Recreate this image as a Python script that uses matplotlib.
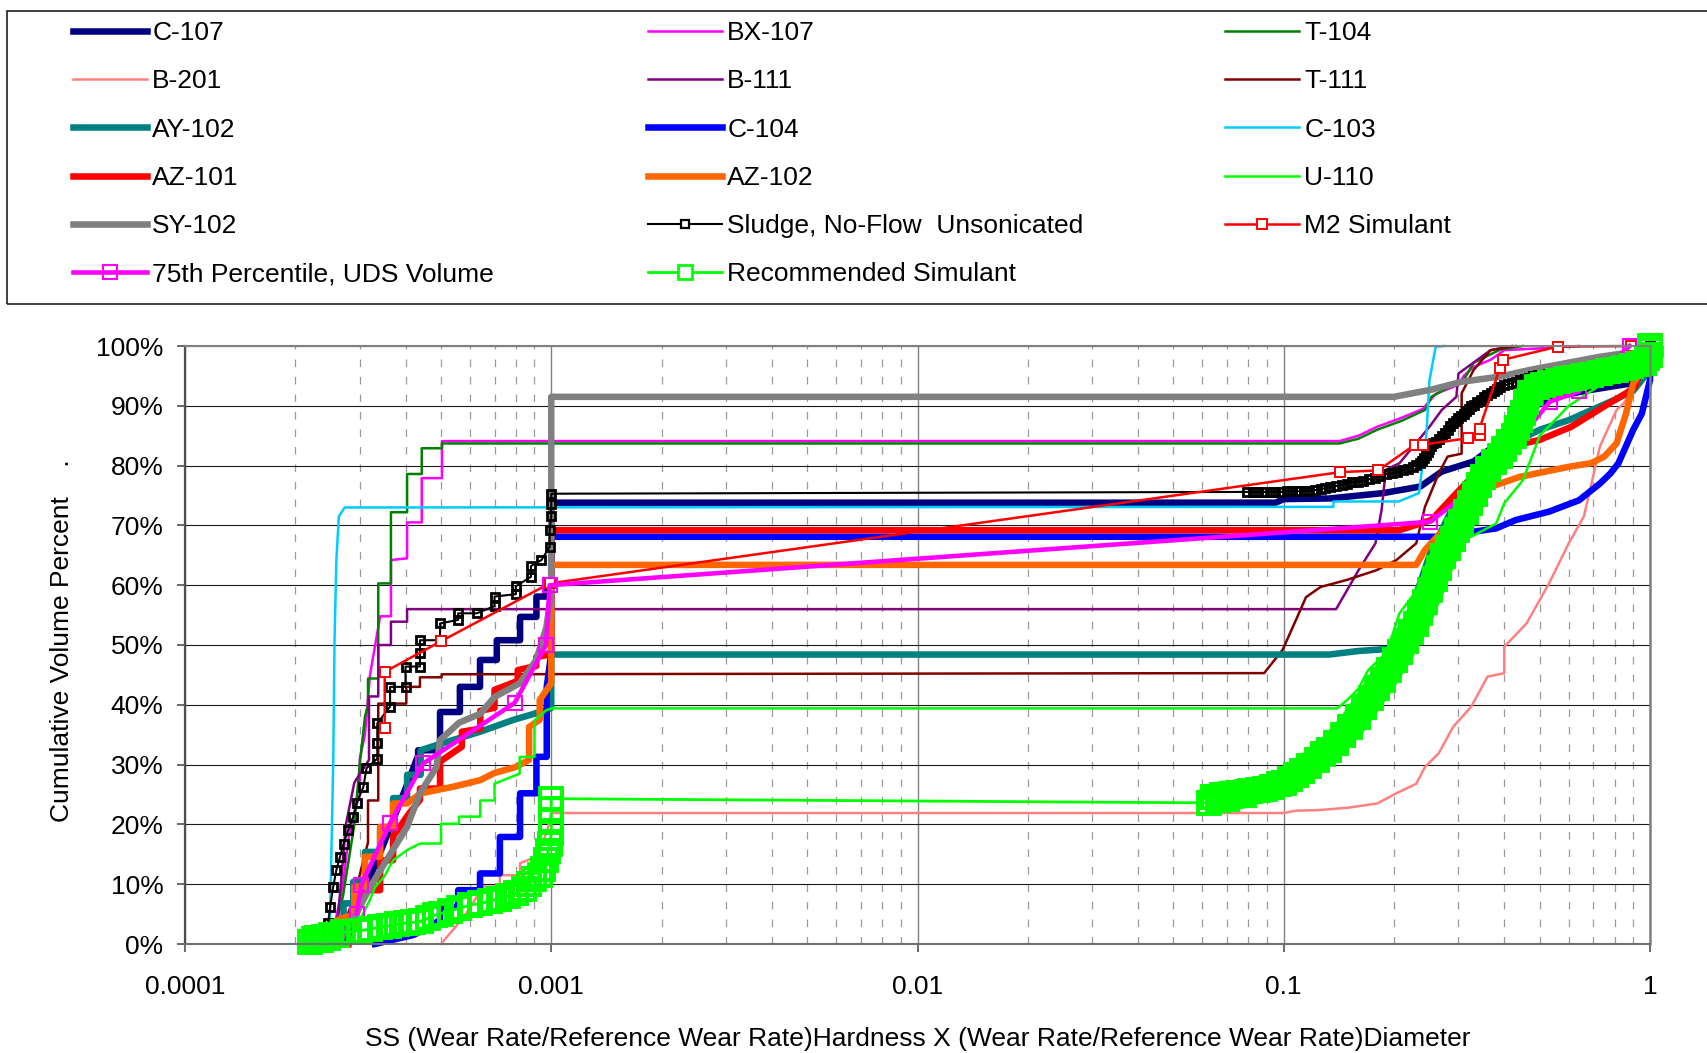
import matplotlib
matplotlib.use("Agg")
import matplotlib.pyplot as plt
from matplotlib.lines import Line2D
from matplotlib.patches import Rectangle
from matplotlib.ticker import FixedLocator, FixedFormatter, LogLocator, NullFormatter

plt.rcParams['font.family'] = ['Liberation Sans', 'DejaVu Sans']

# ---------------------------------------------------------------------------
# Cumulative volume percent vs. SS wear metric, (x, percent) per data set
# ---------------------------------------------------------------------------
C107 = [(0.00027, 0), (0.0003, 7), (0.00035, 17), (0.0004, 26), (0.000433, 31.5),
        (0.000433, 32.4), (0.000497, 32.4), (0.000497, 38.8), (0.000563, 38.8),
        (0.000563, 43.0), (0.000639, 43.0), (0.000639, 47.5), (0.00071, 47.5), (0.00071, 50.8),
        (0.000822, 50.8), (0.000822, 54.7), (0.000911, 54.7), (0.000911, 58.1), (0.00097, 58.1),
        (0.00097, 59.5), (0.001, 59.5), (0.001, 73.8), (0.095, 73.8), (0.1, 74.4), (0.133, 74.5),
        (0.187, 75.4), (0.236, 76.5), (0.27, 79.0), (0.33, 80.7), (0.37, 83.0), (0.4, 85.4),
        (0.45, 89.0), (0.55, 91.5), (0.68, 92.6), (0.9, 93.8), (0.97, 96.0), (1.0, 100)]

BX107 = [(0.00025, 0), (0.00027, 10), (0.00028, 18), (0.00029, 22), (0.0003, 25), (0.0003, 31),
         (0.00031, 35), (0.00032, 45), (0.000341, 54.8), (0.000365, 54.8), (0.000365, 64.2),
         (0.000404, 64.5), (0.000404, 70.5), (0.000443, 70.5), (0.000443, 77.9), (0.000503, 77.9),
         (0.000503, 84.1), (0.142, 84.1), (0.16, 85.0), (0.18, 86.5), (0.21, 88.0), (0.24, 89.5),
         (0.26, 92.0), (0.3, 93.5), (0.31, 95.0), (0.33, 96.5), (0.367, 97.7), (0.4, 99.3),
         (0.5, 99.6), (0.64, 100)]

T104 = [(0.00025, 0), (0.00027, 8), (0.00029, 20), (0.0003, 30), (0.00031, 38), (0.000316, 40),
        (0.000316, 44.4), (0.000337, 44.4), (0.000337, 60.3), (0.000365, 60.3), (0.000365, 72.2),
        (0.000404, 72.2), (0.000404, 78.6), (0.000443, 78.6), (0.000443, 82.9), (0.000503, 82.9),
        (0.000503, 83.7), (0.142, 83.7), (0.16, 84.5), (0.18, 86.0), (0.21, 87.5), (0.243, 89.3),
        (0.253, 91.5), (0.28, 93.0), (0.31, 94.3), (0.33, 97.2), (0.39, 99.4), (0.45, 100)]

B201 = [(0.0005, 0), (0.00055, 3), (0.0006, 6), (0.00065, 9.6), (0.000724, 9.6), (0.000724, 11.5),
        (0.000822, 11.5), (0.000822, 13.5), (0.0009, 14.5), (0.00095, 17.0), (0.00098, 19.5),
        (0.001, 21.9), (0.1, 21.9), (0.108, 22.3), (0.125, 22.4), (0.15, 22.8), (0.18, 23.5),
        (0.203, 25.2), (0.23, 26.8), (0.243, 29.6), (0.265, 31.9), (0.29, 36.3), (0.325, 39.7),
        (0.36, 44.7), (0.4, 45.3), (0.4, 49.7), (0.46, 53.6), (0.53, 60.3), (0.6, 67.0),
        (0.66, 71.5), (0.73, 83.2), (0.81, 89.3), (0.85, 90.5), (0.9, 93.2), (0.95, 94.0), (1.0, 100)]

B111 = [(0.000255, 0), (0.000262, 5), (0.000268, 11.8), (0.000275, 20), (0.00029, 27),
        (0.000318, 30.8), (0.000318, 41.4), (0.000337, 41.4), (0.000337, 50.0), (0.000365, 50.0),
        (0.000365, 53.9), (0.000404, 53.9), (0.000404, 56.0), (0.139, 56.0), (0.149, 59.2),
        (0.16, 62.5), (0.178, 67.0), (0.185, 72.6), (0.19, 79.3), (0.207, 80.4), (0.25, 86.5),
        (0.27, 89.3), (0.296, 91.5), (0.3, 95.4), (0.367, 99.3), (0.42, 100)]

T111 = [(0.00026, 0), (0.00029, 8), (0.000316, 17), (0.000316, 24), (0.000337, 24),
        (0.000337, 40.2), (0.000402, 40.2), (0.000402, 43.0), (0.000438, 43.0), (0.000438, 44.6),
        (0.000502, 44.6), (0.000502, 45.1), (0.0884, 45.3), (0.0993, 49.2), (0.108, 54.2),
        (0.115, 58.0), (0.126, 59.7), (0.149, 60.9), (0.179, 62.5), (0.203, 64.2), (0.23, 67.0),
        (0.243, 73.1), (0.265, 78.7), (0.28, 81.5), (0.306, 82.0), (0.306, 92.1), (0.33, 96.0),
        (0.367, 99.3), (0.43, 100)]

AY102 = [(0.000262, 0), (0.000271, 0), (0.000271, 6.8), (0.000288, 6.8), (0.000288, 10.4),
         (0.00031, 10.4), (0.00031, 15.4), (0.000341, 15.4), (0.000341, 19.3), (0.00037, 19.3),
         (0.00037, 24.4), (0.000404, 24.4), (0.000404, 28.3), (0.00044, 28.3), (0.00044, 32.4),
         (0.0005, 33.5), (0.00064, 35.5), (0.00079, 37.5), (0.00091, 38.6), (0.00097, 39.1),
         (0.001, 39.5), (0.001, 48.4), (0.133, 48.4), (0.16, 49.0), (0.2, 49.4), (0.22, 55.0),
         (0.25, 65.0), (0.3, 75.0), (0.4, 83.0), (0.5, 86.0), (0.6, 87.6), (0.8, 91.0),
         (0.9, 92.5), (0.97, 95.0), (1.0, 100)]

C104 = [(0.00033, 0), (0.00042, 1.5), (0.000447, 2.3), (0.000497, 4.0), (0.000497, 6.2),
        (0.000557, 6.2), (0.000557, 9.0), (0.000639, 9.0), (0.000639, 11.8), (0.000724, 11.8),
        (0.000724, 17.9), (0.000822, 17.9), (0.000822, 25.2), (0.000911, 25.2), (0.000911, 31.3),
        (0.000972, 31.3), (0.000972, 43.0), (0.001, 48.6), (0.001, 68.1), (0.265, 68.1),
        (0.38, 69.5), (0.43, 70.9), (0.53, 72.3), (0.64, 74.2), (0.73, 77.0), (0.78, 78.7),
        (0.82, 80.4), (0.9, 86.0), (0.95, 88.7), (1.0, 94.3), (1.0, 100)]

C103 = [(0.000248, 0), (0.00025, 10), (0.000254, 30.8), (0.000256, 50.8), (0.000259, 64.2),
        (0.000263, 71.5), (0.000273, 73.0), (0.1366, 73.1), (0.1366, 74.0), (0.206, 74.0),
        (0.234, 75.4), (0.245, 85.0), (0.25, 94.3), (0.26, 99.9), (0.275, 100)]

AZ101 = [(0.00028, 0), (0.00029, 4), (0.00031, 9), (0.000341, 9), (0.000341, 14), (0.00037, 14),
         (0.00037, 18), (0.00041, 21.9), (0.000438, 24.1), (0.000438, 26), (0.000497, 26),
         (0.000497, 30.5), (0.00057, 33), (0.00057, 35.5), (0.00064, 36), (0.00064, 39),
         (0.0007, 39.5), (0.0007, 42.5), (0.00081, 44), (0.00081, 45.8), (0.00091, 46.5),
         (0.00091, 48), (0.00097, 48.3), (0.001, 49), (0.001, 69.2), (0.207, 69.2),
         (0.253, 70.9), (0.29, 74.8), (0.35, 80.0), (0.4, 83.0), (0.5, 84.3), (0.61, 86.5),
         (0.75, 89.9), (0.86, 92.1), (0.91, 93.2), (1.0, 100)]

AZ102 = [(0.00025, 0), (0.00026, 4), (0.00029, 5), (0.00029, 9.6), (0.00031, 9.6), (0.00031, 14.6),
         (0.000341, 14.6), (0.000341, 19.6), (0.00037, 19.6), (0.00037, 23.5), (0.000404, 23.5),
         (0.00044, 25.2), (0.00054, 26.3), (0.00064, 27.4), (0.0007, 28.6), (0.0008, 29.6),
         (0.00087, 30.8), (0.00087, 36.3), (0.00093, 37.5), (0.00093, 40.8), (0.001, 43.6),
         (0.001, 63.4), (0.23, 63.4), (0.243, 65.9), (0.3, 72.0), (0.35, 76.0), (0.44, 78.1),
         (0.6, 79.8), (0.69, 80.4), (0.75, 81.5), (0.81, 83.7), (0.86, 88.7), (0.9, 93.8),
         (0.93, 95.0), (1.0, 100)]

U110 = [(0.00028, 0), (0.0003, 4), (0.00032, 7.4), (0.00033, 9.5), (0.00035, 11.3), (0.00037, 14),
        (0.000404, 15.7), (0.000438, 16.8), (0.0005, 16.8), (0.0005, 20.1), (0.00056, 20.1),
        (0.00056, 21.3), (0.00064, 21.3), (0.00064, 24.0), (0.0007, 24.0), (0.0007, 26.8),
        (0.00082, 28.5), (0.00082, 31.3), (0.0009, 31.3), (0.0009, 37.4), (0.00097, 39.1),
        (0.001, 39.4), (0.14, 39.4), (0.149, 40.8), (0.16, 42.7), (0.17, 45.8), (0.19, 48.6),
        (0.2, 52.5), (0.207, 55.3), (0.25, 62.0), (0.3, 67.0), (0.38, 70.3), (0.4, 73.7),
        (0.45, 77.6), (0.5, 85.0), (0.6, 90.0), (0.8, 95.0), (1.0, 100)]

SY102 = [(0.00026, 0), (0.00028, 3), (0.0003, 6.2), (0.00032, 9.5), (0.000355, 14),
         (0.000404, 19.6), (0.000438, 25.2), (0.000486, 29.6), (0.000497, 34.1), (0.00056, 37.0),
         (0.00064, 38.5), (0.0007, 41.3), (0.00082, 43.6), (0.00091, 47.5), (0.00097, 53.0),
         (0.001, 58.6), (0.001, 91.5), (0.2, 91.5), (0.253, 92.7), (0.305, 94.0), (0.39, 94.9),
         (0.47, 96.0), (0.73, 98.2), (0.9, 99.0), (1.0, 100)]

SLUDGE = [(0.000246, 2.0), (0.000246, 3.5), (0.000249, 6.2), (0.000254, 9.6), (0.000259, 12.4),
          (0.000265, 14.6), (0.000271, 16.8), (0.000279, 19.1), (0.000288, 21.3), (0.000294, 23.5),
          (0.000307, 26.3), (0.000313, 29.4), (0.000335, 31.0), (0.000335, 33.6), (0.000335, 36.9),
          (0.000363, 39.7), (0.000363, 43.0), (0.0004, 43.0), (0.0004, 46.4), (0.000438, 46.4),
          (0.000438, 48.6), (0.000438, 50.8), (0.000497, 50.8), (0.000497, 53.6), (0.000557, 54.2),
          (0.000557, 55.3), (0.000626, 55.3), (0.0007, 56.5), (0.0007, 58.1), (0.0008, 58.5),
          (0.0008, 59.8), (0.00088, 61.4), (0.00088, 63.2), (0.00094, 64.2), (0.00099, 66.4),
          (0.00099, 69.2), (0.001, 71.5), (0.001, 73.5), (0.001, 75.3),
          (0.0793, 75.6), (0.0822, 75.6), (0.0852, 75.6), (0.0883, 75.6), (0.0915, 75.6),
          (0.0948, 75.6), (0.0982, 75.6), (0.1018, 75.7), (0.1055, 75.7), (0.1093, 75.7),
          (0.1133, 75.8), (0.1174, 75.8), (0.1216, 75.9), (0.126, 76.1), (0.13, 76.2),
          (0.134, 76.4), (0.139, 76.6), (0.144, 76.8), (0.149, 77.0), (0.154, 77.2),
          (0.159, 77.3), (0.165, 77.5), (0.171, 77.7), (0.177, 78.0), (0.183, 78.3),
          (0.19, 78.6), (0.197, 78.7), (0.204, 78.9), (0.211, 79.2), (0.218, 79.5),
          (0.225, 79.8), (0.23, 80.1), (0.235, 80.5), (0.239, 80.8), (0.242, 81.3),
          (0.245, 81.8), (0.248, 82.3), (0.25, 82.8), (0.253, 83.3), (0.256, 83.7),
          (0.26, 84.0), (0.265, 84.5), (0.27, 85.0), (0.275, 85.5), (0.28, 86.0),
          (0.285, 86.6), (0.29, 87.1), (0.295, 87.5), (0.3, 87.9), (0.305, 88.3),
          (0.31, 88.7), (0.315, 89.1), (0.32, 89.5), (0.325, 89.9), (0.33, 90.2),
          (0.337, 90.6), (0.345, 91.0), (0.352, 91.4), (0.36, 91.8), (0.367, 92.1),
          (0.375, 92.5), (0.382, 92.8), (0.39, 93.1), (0.4, 93.4), (0.41, 93.6),
          (0.42, 93.8), (0.43, 94.0), (0.442, 94.3), (0.455, 94.5), (0.467, 94.7),
          (0.48, 94.9), (0.495, 95.1), (0.51, 95.2), (0.525, 95.3), (0.54, 95.4),
          (0.57, 95.6), (0.6, 95.7), (0.63, 95.9), (0.66, 96.0), (0.7, 96.2), (0.75, 96.4),
          (0.8, 96.7), (0.85, 97.0), (0.9, 97.4), (0.95, 97.8), (1.0, 100)]

M2 = [(0.000351, 36.1), (0.000351, 45.5), (0.000499, 50.6), (0.00099, 60.3), (0.1424, 78.9),
      (0.1812, 79.2), (0.228, 83.5), (0.24, 83.5), (0.3193, 84.6), (0.3424, 85.1), (0.3424, 86.2),
      (0.389, 96.3), (0.397, 97.7), (0.5597, 99.9), (0.8887, 100)]

P75_UDS = [(0.000294, 5.1), (0.000303, 9.9), (0.000363, 20.2), (0.000447, 30.2), (0.000794, 40.3),
           (0.000968, 50.0), (0.00099, 60.0), (0.2507, 70.6), (0.355, 77.6), (0.533, 90.7),
           (0.64, 92.4), (0.88, 100)]

# recommended simulant: fine-fraction branch and coarse-fraction branch
RECOMMENDED_FINE = [(0.00022, 0.3), (0.000225, 0.8), (0.00023, 1.0), (0.000235, 0.6),
                    (0.00024, 1.2), (0.000245, 1.0), (0.00025, 1.5), (0.00026, 1.5),
                    (0.00027, 2.0), (0.00028, 2.0), (0.0003, 2.2), (0.00032, 2.5),
                    (0.00034, 2.8), (0.00036, 3.0), (0.00038, 3.3), (0.0004, 3.5),
                    (0.00042, 3.6), (0.00044, 3.8), (0.00046, 4.3), (0.00048, 4.8),
                    (0.0005, 5.1), (0.00053, 5.5), (0.00056, 6.0), (0.0006, 6.5),
                    (0.00064, 6.8), (0.00068, 7.2), (0.00072, 7.6), (0.00076, 8.0),
                    (0.0008, 8.5), (0.00084, 9.2), (0.00087, 10.0), (0.0009, 10.8),
                    (0.00093, 11.5), (0.00095, 12.5), (0.00097, 14.0), (0.00098, 15.5),
                    (0.00099, 16.8), (0.001, 18.5), (0.001, 20.7), (0.001, 22.5), (0.001, 24.3)]

RECOMMENDED_COARSE = [(0.0625, 23.6), (0.064, 24.5), (0.066, 24.0), (0.068, 25.0), (0.07, 24.3),
                      (0.072, 24.8), (0.075, 25.3), (0.078, 25.0), (0.081, 25.6), (0.085, 25.7),
                      (0.089, 26.0), (0.093, 26.3), (0.097, 26.7), (0.1, 27.0), (0.104, 27.6),
                      (0.108, 28.3), (0.112, 29.0), (0.117, 29.8), (0.123, 30.8), (0.128, 31.7),
                      (0.133, 32.5), (0.139, 33.6), (0.145, 35.0), (0.152, 36.3), (0.159, 38.0),
                      (0.166, 39.6), (0.173, 41.2), (0.18, 42.8), (0.187, 44.2), (0.194, 45.8),
                      (0.201, 47.5), (0.208, 48.8), (0.215, 50.6), (0.222, 52.2), (0.229, 53.5),
                      (0.236, 55.3), (0.243, 57.2), (0.251, 59.2), (0.258, 61.0), (0.265, 62.9),
                      (0.273, 64.8), (0.281, 66.3), (0.29, 67.8), (0.297, 69.2), (0.305, 70.6),
                      (0.314, 72.2), (0.323, 73.7), (0.332, 75.2), (0.342, 76.7), (0.351, 78.1),
                      (0.362, 79.5), (0.375, 80.6), (0.389, 81.6), (0.4, 82.8), (0.412, 84.0),
                      (0.424, 84.9), (0.433, 86.3), (0.442, 87.6), (0.451, 88.8), (0.46, 90.6),
                      (0.47, 92.2), (0.49, 93.2), (0.51, 93.5), (0.533, 93.8), (0.56, 94.1),
                      (0.59, 94.4), (0.62, 94.6), (0.657, 94.9), (0.69, 95.2), (0.73, 95.5),
                      (0.77, 95.8), (0.81, 96.0), (0.85, 96.4), (0.89, 96.7), (0.93, 97.0),
                      (0.96, 97.2), (0.98, 98.0), (1.0, 98.5), (1.0, 99.3), (1.0, 100.0)]

RECOMMENDED = RECOMMENDED_FINE + RECOMMENDED_COARSE

X_TICKS = [0.0001, 0.001, 0.01, 0.1, 1]
X_TICK_LABELS = ['0.0001', '0.001', '0.01', '0.1', '1']
Y_TICKS = [0, 10, 20, 30, 40, 50, 60, 70, 80, 90, 100]
Y_TICK_LABELS = ['0%', '10%', '20%', '30%', '40%', '50%', '60%', '70%', '80%', '90%', '100%']

X_LABEL = ('SS (Wear Rate/Reference Wear Rate)Hardness X '
           '(Wear Rate/Reference Wear Rate)Diameter')
Y_LABEL = 'Cumulative Volume Percent    .'

# ---------------------------------------------------------------------------
# styles
# ---------------------------------------------------------------------------
THICK = 4.7
THIN = 1.8
LIME = '#00FF00'

SERIES = [
    ('C-107', C107, dict(color='#000080', lw=THICK)),
    ('BX-107', BX107, dict(color='#FF00FF', lw=THIN)),
    ('T-104', T104, dict(color='#008000', lw=THIN)),
    ('B-201', B201, dict(color='#FF8080', lw=THIN)),
    ('B-111', B111, dict(color='#800080', lw=THIN)),
    ('T-111', T111, dict(color='#800000', lw=THIN)),
    ('AY-102', AY102, dict(color='#008080', lw=THICK)),
    ('C-104', C104, dict(color='#0000FF', lw=THICK)),
    ('C-103', C103, dict(color='#00CCFF', lw=THIN)),
    ('AZ-101', AZ101, dict(color='#FF0000', lw=THICK)),
    ('AZ-102', AZ102, dict(color='#FF6600', lw=THICK)),
    ('U-110', U110, dict(color=LIME, lw=THIN)),
    ('SY-102', SY102, dict(color='#808080', lw=THICK)),
    ('Sludge, No-Flow  Unsonicated', SLUDGE,
     dict(color='black', lw=1.5, marker='s', ms=6, mfc='none', mec='black', mew=2.0)),
    ('M2 Simulant', M2,
     dict(color='#FF0000', lw=1.8, marker='s', ms=6.5, mfc='white', mec='#FF0000', mew=1.4)),
    ('75th Percentile, UDS Volume', P75_UDS,
     dict(color='#FF00FF', lw=3.3, marker='s', ms=9.5, mfc='none', mec='#FF00FF', mew=1.5)),
    ('Recommended Simulant', RECOMMENDED,
     dict(color=LIME, lw=2.0, marker='s', ms=16, mfc='none', mec=LIME, mew=2.8)),
]

# marker sizes used for the legend keys
LEGEND_MARKER = {
    'Sludge, No-Flow  Unsonicated': dict(mfc='white', ms=6, mew=1.6),
    'Recommended Simulant': dict(mfc='white', ms=10, mew=2.0),
}

LEGEND_COLUMNS = [
    ['C-107', 'B-201', 'AY-102', 'AZ-101', 'SY-102', '75th Percentile, UDS Volume'],
    ['BX-107', 'B-111', 'C-104', 'AZ-102', 'Sludge, No-Flow  Unsonicated', 'Recommended Simulant'],
    ['T-104', 'T-111', 'C-103', 'U-110', 'M2 Simulant'],
]

# ---------------------------------------------------------------------------
# figure
# ---------------------------------------------------------------------------
W, H = 1707, 1053
FS = 19
fig = plt.figure(figsize=(W / 100, H / 100), dpi=100)
ax = fig.add_axes([185 / W, 1 - 944 / H, (1650 - 185) / W, (944 - 346) / H])

ax.set_xscale('log')
ax.set_xlim(1e-4, 1)
ax.set_ylim(0, 100)

legend_handles = {}
for label, pts, style in SERIES:
    xs = [p[0] for p in pts]
    ys = [p[1] for p in pts]
    if label == 'Recommended Simulant':
        # the densely overlapping coarse-fraction markers merge into a solid band
        ax.plot([p[0] for p in RECOMMENDED_COARSE], [p[1] for p in RECOMMENDED_COARSE],
                color=LIME, lw=20, solid_capstyle='butt', solid_joinstyle='round',
                clip_on=False)
    ax.plot(xs, ys, label=label, clip_on=False, **style)
    key_style = dict(style)
    key_style.update(LEGEND_MARKER.get(label, {}))
    legend_handles[label] = Line2D([], [], **key_style)

# grid
ax.set_axisbelow(True)
ax.xaxis.set_major_locator(FixedLocator(X_TICKS))
ax.xaxis.set_major_formatter(FixedFormatter(X_TICK_LABELS))
ax.xaxis.set_minor_locator(LogLocator(base=10, subs=[2, 3, 4, 5, 6, 7, 8, 9]))
ax.xaxis.set_minor_formatter(NullFormatter())
ax.yaxis.set_major_locator(FixedLocator(Y_TICKS))
ax.yaxis.set_major_formatter(FixedFormatter(Y_TICK_LABELS))

ax.grid(which='major', axis='x', color='#808080', lw=1.0)
ax.grid(which='minor', axis='x', color='#9a9a9a', lw=0.9, linestyle=(0, (6, 8)))
ax.grid(which='major', axis='y', color='#1a1a1a', lw=0.8)

ax.tick_params(axis='both', which='major', direction='out', length=5.5, width=1.2,
               color='#505050', labelsize=FS)
ax.tick_params(axis='y', which='major', pad=10)
ax.tick_params(axis='x', which='major', pad=17)
ax.tick_params(which='minor', length=0)

ax.spines['left'].set_color('#505050')
ax.spines['left'].set_linewidth(1.6)
ax.spines['bottom'].set_color('#707070')
ax.spines['bottom'].set_linewidth(1.5)
ax.spines['right'].set_color('#808080')
ax.spines['right'].set_linewidth(1.8)
ax.spines['top'].set_color('#808080')
ax.spines['top'].set_linewidth(1.5)

ax.set_xlabel(X_LABEL, fontsize=FS)
ax.xaxis.set_label_coords(0.5, -0.139)
ax.set_ylabel(Y_LABEL, fontsize=FS)
ax.yaxis.set_label_coords(-0.0758, 0.507)

# legend box and columns
fig.patches.append(Rectangle((7 / W, 1 - 304 / H), (1730 - 7) / W, (304 - 11) / H,
                             transform=fig.transFigure, fill=False, ec='#202020', lw=1.2))
for col_x, names in zip([73, 648, 1225], LEGEND_COLUMNS):
    fig.legend([legend_handles[n] for n in names], names, loc='upper left',
               bbox_to_anchor=(col_x / W, 1 - 21 / H), frameon=False, fontsize=FS,
               handlelength=2.8, handletextpad=0.2, labelspacing=0.92,
               borderpad=0, borderaxespad=0, numpoints=1)

fig.savefig('out.png', dpi=100)
